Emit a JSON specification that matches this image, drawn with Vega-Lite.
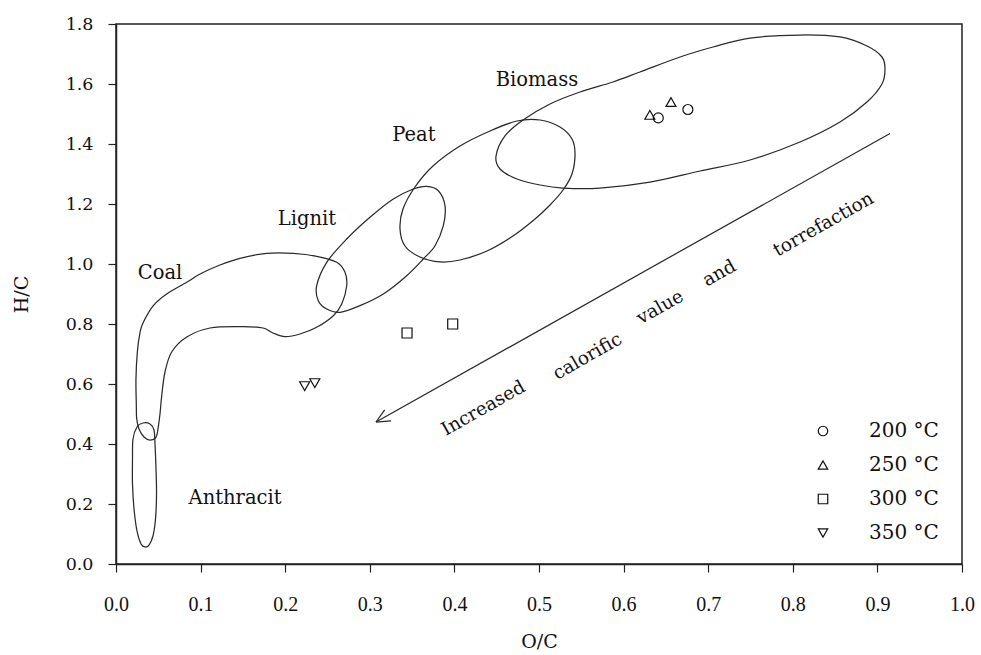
{
  "$schema": "https://vega.github.io/schema/vega-lite/v6.json",
  "autosize": "none",
  "width": 846,
  "height": 540,
  "padding": {"left": 116, "top": 24, "right": 19, "bottom": 91},
  "background": "white",
  "config": {
    "view": {"stroke": "#222", "strokeWidth": 1.5},
    "axis": {
      "labelFont": "DejaVu Serif",
      "titleFont": "DejaVu Serif",
      "labelFontSize": 17.5,
      "titleFontSize": 19,
      "labelColor": "#111",
      "titleColor": "#111",
      "titleFontWeight": "normal",
      "labelFlush": false,
      "domainColor": "#222",
      "domainWidth": 1.5,
      "tickColor": "#222",
      "tickWidth": 1.2,
      "tickSize": 8,
      "grid": false
    }
  },
  "datasets": {
    "regions": [
      {"region": "Coal", "i": 1, "x": 0.0496, "y": 0.45},
      {"region": "Coal", "i": 2, "x": 0.0520, "y": 0.50},
      {"region": "Coal", "i": 3, "x": 0.0540, "y": 0.56},
      {"region": "Coal", "i": 4, "x": 0.0579, "y": 0.64},
      {"region": "Coal", "i": 5, "x": 0.0658, "y": 0.7067},
      {"region": "Coal", "i": 6, "x": 0.0836, "y": 0.7567},
      {"region": "Coal", "i": 7, "x": 0.1111, "y": 0.7867},
      {"region": "Coal", "i": 8, "x": 0.1501, "y": 0.791},
      {"region": "Coal", "i": 9, "x": 0.1738, "y": 0.7867},
      {"region": "Coal", "i": 10, "x": 0.1856, "y": 0.77},
      {"region": "Coal", "i": 11, "x": 0.1998, "y": 0.7577},
      {"region": "Coal", "i": 12, "x": 0.2175, "y": 0.7667},
      {"region": "Coal", "i": 13, "x": 0.2372, "y": 0.789},
      {"region": "Coal", "i": 14, "x": 0.2569, "y": 0.8277},
      {"region": "Coal", "i": 15, "x": 0.2668, "y": 0.8667},
      {"region": "Coal", "i": 16, "x": 0.2727, "y": 0.9277},
      {"region": "Coal", "i": 17, "x": 0.2707, "y": 0.9723},
      {"region": "Coal", "i": 18, "x": 0.2609, "y": 1.0057},
      {"region": "Coal", "i": 19, "x": 0.2372, "y": 1.0257},
      {"region": "Coal", "i": 20, "x": 0.2096, "y": 1.0357},
      {"region": "Coal", "i": 21, "x": 0.1781, "y": 1.0357},
      {"region": "Coal", "i": 22, "x": 0.1466, "y": 1.019},
      {"region": "Coal", "i": 23, "x": 0.1229, "y": 0.9967},
      {"region": "Coal", "i": 24, "x": 0.0993, "y": 0.9667},
      {"region": "Coal", "i": 25, "x": 0.0836, "y": 0.939},
      {"region": "Coal", "i": 26, "x": 0.0599, "y": 0.90},
      {"region": "Coal", "i": 27, "x": 0.0441, "y": 0.861},
      {"region": "Coal", "i": 28, "x": 0.0323, "y": 0.8057},
      {"region": "Coal", "i": 29, "x": 0.0284, "y": 0.7723},
      {"region": "Coal", "i": 30, "x": 0.0252, "y": 0.7057},
      {"region": "Coal", "i": 31, "x": 0.0236, "y": 0.6167},
      {"region": "Coal", "i": 32, "x": 0.0240, "y": 0.5333},
      {"region": "Coal", "i": 33, "x": 0.0245, "y": 0.4833},
      {"region": "Coal", "i": 34, "x": 0.0272, "y": 0.45},
      {"region": "Coal", "i": 35, "x": 0.0331, "y": 0.4233},
      {"region": "Coal", "i": 36, "x": 0.0402, "y": 0.4133},
      {"region": "Coal", "i": 37, "x": 0.0473, "y": 0.4233},

      {"region": "Anthracit", "i": 1, "x": 0.0319, "y": 0.47},
      {"region": "Anthracit", "i": 2, "x": 0.0402, "y": 0.4667},
      {"region": "Anthracit", "i": 3, "x": 0.0449, "y": 0.4467},
      {"region": "Anthracit", "i": 4, "x": 0.0461, "y": 0.40},
      {"region": "Anthracit", "i": 5, "x": 0.0473, "y": 0.3167},
      {"region": "Anthracit", "i": 6, "x": 0.0479, "y": 0.2333},
      {"region": "Anthracit", "i": 7, "x": 0.0467, "y": 0.15},
      {"region": "Anthracit", "i": 8, "x": 0.0437, "y": 0.0933},
      {"region": "Anthracit", "i": 9, "x": 0.0390, "y": 0.0633},
      {"region": "Anthracit", "i": 10, "x": 0.0343, "y": 0.0567},
      {"region": "Anthracit", "i": 11, "x": 0.0296, "y": 0.0667},
      {"region": "Anthracit", "i": 12, "x": 0.0248, "y": 0.11},
      {"region": "Anthracit", "i": 13, "x": 0.0213, "y": 0.1833},
      {"region": "Anthracit", "i": 14, "x": 0.0195, "y": 0.2667},
      {"region": "Anthracit", "i": 15, "x": 0.0195, "y": 0.35},
      {"region": "Anthracit", "i": 16, "x": 0.0201, "y": 0.4167},
      {"region": "Anthracit", "i": 17, "x": 0.0248, "y": 0.4567},

      {"region": "Lignit", "i": 1, "x": 0.2372, "y": 0.9277},
      {"region": "Lignit", "i": 2, "x": 0.2491, "y": 1.0057},
      {"region": "Lignit", "i": 3, "x": 0.2727, "y": 1.0833},
      {"region": "Lignit", "i": 4, "x": 0.3002, "y": 1.1557},
      {"region": "Lignit", "i": 5, "x": 0.3278, "y": 1.2167},
      {"region": "Lignit", "i": 6, "x": 0.3514, "y": 1.25},
      {"region": "Lignit", "i": 7, "x": 0.3673, "y": 1.259},
      {"region": "Lignit", "i": 8, "x": 0.3810, "y": 1.2443},
      {"region": "Lignit", "i": 9, "x": 0.3889, "y": 1.1943},
      {"region": "Lignit", "i": 10, "x": 0.3869, "y": 1.1277},
      {"region": "Lignit", "i": 11, "x": 0.3771, "y": 1.061},
      {"region": "Lignit", "i": 12, "x": 0.3632, "y": 1.0167},
      {"region": "Lignit", "i": 13, "x": 0.3436, "y": 0.961},
      {"region": "Lignit", "i": 14, "x": 0.3160, "y": 0.90},
      {"region": "Lignit", "i": 15, "x": 0.2884, "y": 0.861},
      {"region": "Lignit", "i": 16, "x": 0.2648, "y": 0.839},
      {"region": "Lignit", "i": 17, "x": 0.2491, "y": 0.85},
      {"region": "Lignit", "i": 18, "x": 0.2391, "y": 0.8777},

      {"region": "Peat", "i": 1, "x": 0.3357, "y": 1.1167},
      {"region": "Peat", "i": 2, "x": 0.3392, "y": 1.1833},
      {"region": "Peat", "i": 3, "x": 0.3534, "y": 1.2567},
      {"region": "Peat", "i": 4, "x": 0.3747, "y": 1.3267},
      {"region": "Peat", "i": 5, "x": 0.4066, "y": 1.3933},
      {"region": "Peat", "i": 6, "x": 0.4421, "y": 1.4433},
      {"region": "Peat", "i": 7, "x": 0.4740, "y": 1.4767},
      {"region": "Peat", "i": 8, "x": 0.5012, "y": 1.48},
      {"region": "Peat", "i": 9, "x": 0.5248, "y": 1.4567},
      {"region": "Peat", "i": 10, "x": 0.5390, "y": 1.4167},
      {"region": "Peat", "i": 11, "x": 0.5426, "y": 1.3667},
      {"region": "Peat", "i": 12, "x": 0.5390, "y": 1.30},
      {"region": "Peat", "i": 13, "x": 0.5284, "y": 1.2467},
      {"region": "Peat", "i": 14, "x": 0.5130, "y": 1.1967},
      {"region": "Peat", "i": 15, "x": 0.4953, "y": 1.15},
      {"region": "Peat", "i": 16, "x": 0.4693, "y": 1.0933},
      {"region": "Peat", "i": 17, "x": 0.4385, "y": 1.0433},
      {"region": "Peat", "i": 18, "x": 0.4066, "y": 1.0133},
      {"region": "Peat", "i": 19, "x": 0.3830, "y": 1.0067},
      {"region": "Peat", "i": 20, "x": 0.3593, "y": 1.0233},
      {"region": "Peat", "i": 21, "x": 0.3416, "y": 1.06},

      {"region": "Biomass", "i": 1, "x": 0.4492, "y": 1.36},
      {"region": "Biomass", "i": 2, "x": 0.4539, "y": 1.3167},
      {"region": "Biomass", "i": 3, "x": 0.4740, "y": 1.2833},
      {"region": "Biomass", "i": 4, "x": 0.5012, "y": 1.2633},
      {"region": "Biomass", "i": 5, "x": 0.5284, "y": 1.2533},
      {"region": "Biomass", "i": 6, "x": 0.5721, "y": 1.2533},
      {"region": "Biomass", "i": 7, "x": 0.6312, "y": 1.2733},
      {"region": "Biomass", "i": 8, "x": 0.6903, "y": 1.31},
      {"region": "Biomass", "i": 9, "x": 0.7494, "y": 1.3467},
      {"region": "Biomass", "i": 10, "x": 0.8085, "y": 1.4067},
      {"region": "Biomass", "i": 11, "x": 0.8558, "y": 1.4733},
      {"region": "Biomass", "i": 12, "x": 0.8877, "y": 1.54},
      {"region": "Biomass", "i": 13, "x": 0.9054, "y": 1.60},
      {"region": "Biomass", "i": 14, "x": 0.9090, "y": 1.65},
      {"region": "Biomass", "i": 15, "x": 0.9054, "y": 1.69},
      {"region": "Biomass", "i": 16, "x": 0.8877, "y": 1.7267},
      {"region": "Biomass", "i": 17, "x": 0.8558, "y": 1.7567},
      {"region": "Biomass", "i": 18, "x": 0.8085, "y": 1.7633},
      {"region": "Biomass", "i": 19, "x": 0.7494, "y": 1.7533},
      {"region": "Biomass", "i": 20, "x": 0.7057, "y": 1.7233},
      {"region": "Biomass", "i": 21, "x": 0.6667, "y": 1.69},
      {"region": "Biomass", "i": 22, "x": 0.6194, "y": 1.64},
      {"region": "Biomass", "i": 23, "x": 0.5875, "y": 1.6067},
      {"region": "Biomass", "i": 24, "x": 0.5485, "y": 1.5733},
      {"region": "Biomass", "i": 25, "x": 0.5130, "y": 1.5333},
      {"region": "Biomass", "i": 26, "x": 0.4811, "y": 1.48},
      {"region": "Biomass", "i": 27, "x": 0.4598, "y": 1.4267}
    ],
    "samples": [
      {"temp": "200 °C", "x": 0.676, "y": 1.515},
      {"temp": "200 °C", "x": 0.641, "y": 1.487},
      {"temp": "250 °C", "x": 0.656, "y": 1.540},
      {"temp": "250 °C", "x": 0.631, "y": 1.497},
      {"temp": "300 °C", "x": 0.344, "y": 0.770},
      {"temp": "300 °C", "x": 0.398, "y": 0.800},
      {"temp": "350 °C", "x": 0.223, "y": 0.593},
      {"temp": "350 °C", "x": 0.235, "y": 0.603}
    ],
    "arrow": [
      {"part": "shaft", "x": 0.9149, "y": 1.435, "x2": 0.3073, "y2": 0.4733},
      {"part": "head1", "x": 0.3073, "y": 0.4733, "x2": 0.3251, "y2": 0.4773},
      {"part": "head2", "x": 0.3073, "y": 0.4733, "x2": 0.3176, "y2": 0.514}
    ],
    "regionLabels": [
      {"label": "Biomass", "x": 0.4976, "y": 1.6133},
      {"label": "Peat", "x": 0.3522, "y": 1.43},
      {"label": "Lignit", "x": 0.2258, "y": 1.15},
      {"label": "Coal", "x": 0.052, "y": 0.97},
      {"label": "Anthracit", "x": 0.1407, "y": 0.22}
    ],
    "arrowWords": [
      {"word": "Increased", "x": 0.4340, "y": 0.5200},
      {"word": "calorific", "x": 0.5570, "y": 0.6930},
      {"word": "value", "x": 0.6430, "y": 0.8570},
      {"word": "and", "x": 0.7130, "y": 0.9700},
      {"word": "torrefaction", "x": 0.8360, "y": 1.1330}
    ]
  },
  "encoding": {
    "x": {
      "field": "x", "type": "quantitative",
      "scale": {"domain": [0, 1], "nice": false, "zero": false},
      "axis": {"title": "O/C", "values": [0, 0.1, 0.2, 0.3, 0.4, 0.5, 0.6, 0.7, 0.8, 0.9, 1.0], "format": ".1f", "labelFont": "Liberation Serif", "labelFontSize": 20, "labelPadding": 22, "titlePadding": 18}
    },
    "y": {
      "field": "y", "type": "quantitative",
      "scale": {"domain": [0, 1.8], "nice": false, "zero": false},
      "axis": {"title": "H/C", "values": [0, 0.2, 0.4, 0.6, 0.8, 1.0, 1.2, 1.4, 1.6, 1.8], "format": ".1f", "labelPadding": 15, "titlePadding": 34}
    }
  },
  "layer": [
    {
      "data": {"name": "regions"},
      "mark": {"type": "line", "interpolate": "cardinal-closed", "color": "#2a2a2a", "strokeWidth": 1.25},
      "encoding": {
        "detail": {"field": "region", "type": "nominal"},
        "order": {"field": "i", "type": "quantitative"}
      }
    },
    {
      "data": {"name": "arrow"},
      "mark": {"type": "rule", "color": "#2a2a2a", "strokeWidth": 1.25},
      "encoding": {
        "x2": {"field": "x2"},
        "y2": {"field": "y2"},
        "detail": {"field": "part", "type": "nominal"}
      }
    },
    {
      "data": {"name": "regionLabels"},
      "mark": {"type": "text", "font": "DejaVu Serif", "fontSize": 19.5, "color": "#111"},
      "encoding": {"text": {"field": "label", "type": "nominal"}}
    },
    {
      "data": {"name": "arrowWords"},
      "mark": {"type": "text", "font": "DejaVu Serif", "fontSize": 18.5, "color": "#111", "angle": -29.5},
      "encoding": {"text": {"field": "word", "type": "nominal"}}
    },
    {
      "data": {"name": "samples"},
      "mark": {"type": "point", "filled": false, "color": "#111", "strokeWidth": 1.2, "size": 100, "opacity": 1},
      "encoding": {
        "shape": {
          "field": "temp", "type": "nominal",
          "scale": {"domain": ["200 °C", "250 °C", "300 °C", "350 °C"], "range": ["circle", "triangle-up", "square", "triangle-down"]},
          "legend": {
            "title": null,
            "orient": "none",
            "legendX": 697,
            "legendY": 397,
            "padding": 0,
            "labelFont": "DejaVu Serif",
            "labelFontSize": 20,
            "labelColor": "#111",
            "labelOffset": 36,
            "rowPadding": 14,
            "symbolSize": 90,
            "symbolStrokeWidth": 1.2,
            "symbolStrokeColor": "#111",
            "symbolFillColor": "transparent"
          }
        }
      }
    }
  ]
}
